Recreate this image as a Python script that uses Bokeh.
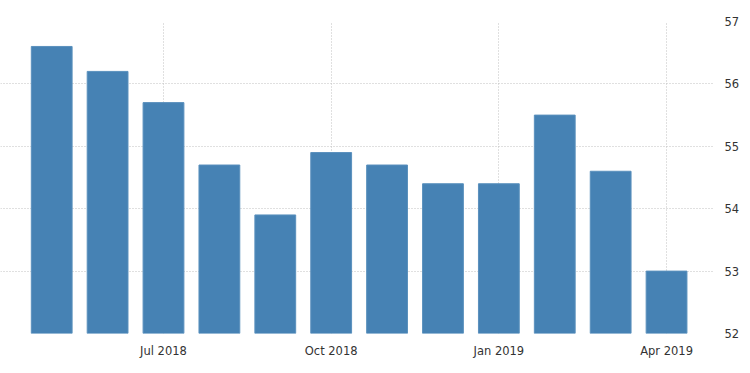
from bokeh.plotting import figure
from bokeh.models import ColumnDataSource, Range1d, FixedTicker
from bokeh.embed import file_html
from bokeh.resources import INLINE

months = ["May 2018", "Jun 2018", "Jul 2018", "Aug 2018", "Sep 2018", "Oct 2018",
          "Nov 2018", "Dec 2018", "Jan 2019", "Feb 2019", "Mar 2019", "Apr 2019"]
values = [56.6, 56.2, 55.7, 54.7, 53.9, 54.9, 54.7, 54.4, 54.4, 55.5, 54.6, 53.0]
tick_labels = {2: "Jul 2018", 5: "Oct 2018", 8: "Jan 2019", 11: "Apr 2019"}
y_ticks = [52, 53, 54, 55, 56, 57]

idx = list(range(len(months)))
src = ColumnDataSource(dict(x=idx, top=values, month=months))

p = figure(width=742, height=360, output_backend="svg", toolbar_location=None,
           x_range=Range1d(-0.916, 11.84), y_range=Range1d(52, 57),
           y_axis_location="right", min_border_left=0, min_border_top=21,
           min_border_bottom=20, min_border_right=29)
p.outline_line_color = None
p.background_fill_color = "white"
p.border_fill_color = "white"

p.vbar(x="x", top="top", bottom=52, width=0.73, source=src,
       fill_color="#4682B4", line_color="#5a90bd", line_width=1)

p.xaxis.ticker = FixedTicker(ticks=list(tick_labels.keys()))
p.xaxis.major_label_overrides = {k: v for k, v in tick_labels.items()}
p.yaxis.ticker = FixedTicker(ticks=y_ticks)

for ax in (p.xaxis[0], p.yaxis[0]):
    ax.axis_line_color = None
    ax.major_tick_line_color = None
    ax.minor_tick_line_color = None
    ax.major_label_text_font = "DejaVu Sans"
    ax.major_label_text_font_size = "11.5px"
    ax.major_label_text_color = "#333333"
p.xaxis.major_label_standoff = 4
p.yaxis.major_label_standoff = 5

p.xgrid.ticker = FixedTicker(ticks=list(tick_labels.keys()))
p.ygrid.ticker = FixedTicker(ticks=y_ticks)
for g in (p.xgrid[0], p.ygrid[0]):
    g.grid_line_color = "#c0c0c0"
    g.grid_line_dash = "1 2"
    g.grid_line_width = 1

open("out.html", "w").write(file_html(p, INLINE))
